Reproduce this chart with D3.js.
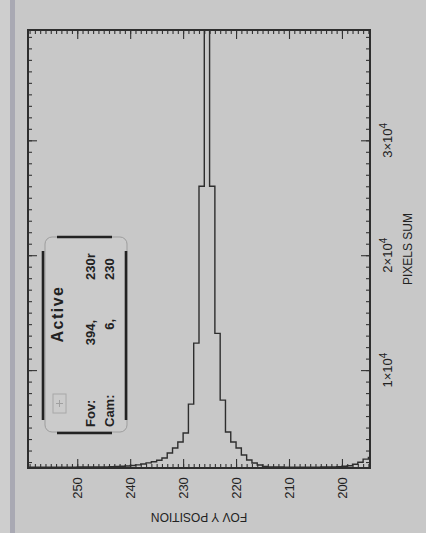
<!DOCTYPE html>
<html>
<head>
<meta charset="utf-8">
<script src="https://cdn.jsdelivr.net/npm/d3@7"></script>
<style>
  html, body { margin: 0; padding: 0; background: #c8c8c8; }
  svg { display: block; }
  text { font-family: "Liberation Sans", Arial, sans-serif; fill: #222; }
</style>
</head>
<body>
<svg id="chart" width="426" height="533"></svg>
<script>
// histogram bins (bin centre on the FOV Y axis) and pixel sums
const binCentre = [259.5, 258.5, 257.5, 256.5, 255.5, 254.5, 253.5, 252.5, 251.5, 250.5,
  249.5, 248.5, 247.5, 246.5, 245.5, 244.5, 243.5, 242.5, 241.5, 240.5,
  239.5, 238.5, 237.5, 236.5, 235.5, 234.5, 233.5, 232.5, 231.5, 230.5,
  229.5, 228.5, 227.5, 226.5, 225.5, 224.5, 223.5, 222.5, 221.5, 220.5,
  219.5, 218.5, 217.5, 216.5, 215.5, 214.5, 213.5, 212.5, 211.5, 210.5,
  209.5, 208.5, 207.5, 206.5, 205.5, 204.5, 203.5, 202.5, 201.5, 200.5,
  199.5, 198.5, 197.5, 196.5, 195.5, 194.5];
const pixelSum = [1560, 1560, 1560, 1560, 1560, 1560, 1560, 1560, 1560, 1560,
  1565, 1565, 1570, 1570, 1575, 1580, 1590, 1610, 1630, 1660,
  1700, 1750, 1830, 1930, 2030, 2150, 2350, 2780, 3220, 3740,
  4520, 7040, 12350, 26000, 39600, 26000, 13200, 7390, 4610, 3740,
  3220, 2610, 2170, 1910, 1740, 1620, 1580, 1570, 1565, 1560,
  1560, 1560, 1560, 1560, 1560, 1560, 1565, 1570, 1580, 1600,
  1630, 1680, 1800, 1980, 2250, 2400];

const xMajor = [250, 240, 230, 220, 210, 200];
const yMajor = [10000, 20000, 30000];
const yMajorLabel = ['1', '2', '3'];   // shown as n×10^4

const svg = d3.select('#chart');

// window border strip on the far left
svg.append('rect').attr('x', 0).attr('y', 0).attr('width', 10).attr('height', 533).attr('fill', '#cecece');
svg.append('rect').attr('x', 10).attr('y', 0).attr('width', 5).attr('height', 533).attr('fill', '#a9a9b3');

const L = 28, R = 370, T = 30, B = 468;
const x = d3.scaleLinear().domain([259.3, 194.7]).range([L, R]);
const y = d3.scaleLinear().domain([1480, 39600]).range([B, T]);

const xMinor = d3.range(195, 260);
const yMinor = d3.range(2000, 40000, 1000);

function styleAxis(g) {
  g.select('.domain').remove();
  g.selectAll('line').attr('stroke', '#333').attr('stroke-width', 1.1);
}

// inward ticks on all four sides
svg.append('g').attr('transform', `translate(0,${B})`)
  .call(d3.axisBottom(x).tickValues(xMinor).tickSize(-4).tickFormat('')).call(styleAxis);
svg.append('g').attr('transform', `translate(0,${B})`)
  .call(d3.axisBottom(x).tickValues(xMajor).tickSize(-9).tickFormat('')).call(styleAxis);
svg.append('g').attr('transform', `translate(0,${T})`)
  .call(d3.axisTop(x).tickValues(xMinor).tickSize(-4).tickFormat('')).call(styleAxis);
svg.append('g').attr('transform', `translate(0,${T})`)
  .call(d3.axisTop(x).tickValues(xMajor).tickSize(-9).tickFormat('')).call(styleAxis);
svg.append('g').attr('transform', `translate(${L},0)`)
  .call(d3.axisLeft(y).tickValues(yMinor).tickSize(-4).tickFormat('')).call(styleAxis);
svg.append('g').attr('transform', `translate(${L},0)`)
  .call(d3.axisLeft(y).tickValues(yMajor).tickSize(-9).tickFormat('')).call(styleAxis);
svg.append('g').attr('transform', `translate(${R},0)`)
  .call(d3.axisRight(y).tickValues(yMinor).tickSize(-4).tickFormat('')).call(styleAxis);
svg.append('g').attr('transform', `translate(${R},0)`)
  .call(d3.axisRight(y).tickValues(yMajor).tickSize(-9).tickFormat('')).call(styleAxis);

// clip for the histogram
svg.append('defs').append('clipPath').attr('id', 'plotclip')
  .append('rect').attr('x', L).attr('y', T).attr('width', R - L).attr('height', B - T);

const line = d3.line()
  .x((d, i) => x(binCentre[i]))
  .y(d => y(d))
  .curve(d3.curveStep);

svg.append('path')
  .datum(pixelSum)
  .attr('clip-path', 'url(#plotclip)')
  .attr('d', line)
  .attr('fill', 'none')
  .attr('stroke', '#2e2e2e')
  .attr('stroke-width', 1.4);

// frame
svg.append('rect')
  .attr('x', L).attr('y', T).attr('width', R - L).attr('height', B - T)
  .attr('fill', 'none').attr('stroke', '#2e2e2e').attr('stroke-width', 2);

// bottom tick labels (rotated)
svg.append('g').selectAll('text')
  .data(xMajor).enter().append('text')
  .attr('transform', d => `translate(${x(d) + 5},${488}) rotate(-90)`)
  .attr('text-anchor', 'middle')
  .attr('font-size', 13)
  .text(d => d);

// right tick labels n×10^4
const yl = svg.append('g').selectAll('text')
  .data(yMajor).enter().append('text')
  .attr('transform', d => `translate(392,${y(d)}) rotate(-90)`)
  .attr('text-anchor', 'middle')
  .attr('font-size', 13);
yl.append('tspan').text((d, i) => yMajorLabel[i] + '×10');
yl.append('tspan').attr('dy', '-0.55em').attr('font-size', 10).text('4');

// axis titles
svg.append('text')
  .attr('transform', `translate(${(L + R) / 2},513) rotate(180)`)
  .attr('text-anchor', 'middle')
  .attr('font-size', 12)
  .text('FOV Y POSITION');
svg.append('text')
  .attr('transform', `translate(412,${(T + B) / 2}) rotate(-90)`)
  .attr('text-anchor', 'middle')
  .attr('font-size', 12)
  .text('PIXELS SUM');

// status widget box drawn over the plot
const box = svg.append('g');
box.append('rect').attr('x', 45).attr('y', 237).attr('width', 82).attr('height', 195).attr('rx', 7)
  .attr('fill', '#cbcbcb').attr('stroke', '#9d9d9d').attr('stroke-width', 1);
const thick = [[43, 251, 43, 420], [126, 251, 126, 420], [57, 237, 112, 237], [57, 433, 112, 433]];
box.selectAll('line.thick').data(thick).enter().append('line')
  .attr('x1', d => d[0]).attr('y1', d => d[1]).attr('x2', d => d[2]).attr('y2', d => d[3])
  .attr('stroke', '#222').attr('stroke-width', 2.6);
box.append('rect').attr('x', 53).attr('y', 394).attr('width', 13).attr('height', 19)
  .attr('fill', 'none').attr('stroke', '#a8a8a8').attr('stroke-width', 1);
box.append('path').attr('d', 'M56,403.5 H63 M59.5,400 V407').attr('stroke', '#a0a0a0').attr('fill', 'none');

function boxText(px, py, anchor, size, weight, str) {
  return box.append('text')
    .attr('transform', `translate(${px},${py}) rotate(-90)`)
    .attr('text-anchor', anchor)
    .attr('font-size', size)
    .attr('font-weight', weight)
    .text(str);
}
boxText(63, 314, 'middle', 16, 'bold', 'Active').attr('letter-spacing', 1.5);
boxText(95, 427, 'start', 13, 'bold', 'Fov:');
boxText(95, 320, 'end', 13, 'bold', '394,');
boxText(95, 280, 'start', 13, 'bold', '230r');
boxText(114, 427, 'start', 13, 'bold', 'Cam:');
boxText(114, 319, 'end', 13, 'bold', '6,');
boxText(114, 280, 'start', 13, 'bold', '230');
</script>
</body>
</html>
